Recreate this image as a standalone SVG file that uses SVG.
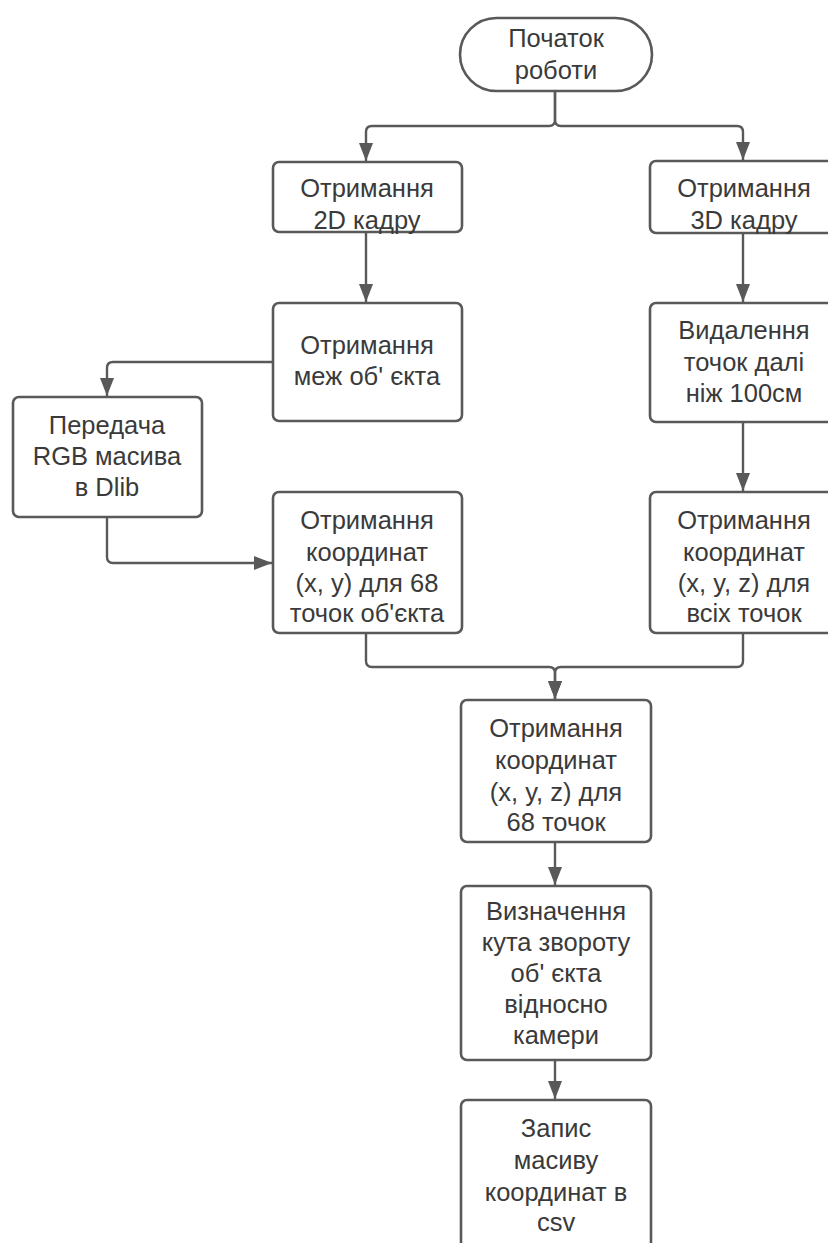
<svg xmlns="http://www.w3.org/2000/svg" width="828" height="1243" viewBox="0 0 828 1243">
<style>
.n{fill:#fff;stroke:#595959;stroke-width:2.6}
.c{fill:none;stroke:#595959;stroke-width:2.4}
text{font-family:"Liberation Sans",Arial,sans-serif;font-size:25.5px;fill:#3a3a3a;text-anchor:middle}
</style>
<defs>
<marker id="ah" markerUnits="userSpaceOnUse" markerWidth="18" markerHeight="16" viewBox="0 0 18 16" refX="18" refY="7" orient="auto">
<path d="M0,0 L18,7 L0,14 Z" fill="#595959"/>
</marker>
</defs>
<rect width="828" height="1243" fill="#fff"/>
<g id="connectors">
<path class="c" d="M555,91 V120 Q555,126 549,126 H372 Q366,126 366,132 V161" marker-end="url(#ah)"/>
<path class="c" d="M555,91 V120 Q555,126 561,126 H737 Q743,126 743,132 V160" marker-end="url(#ah)"/>
<path class="c" d="M366,232 V302" marker-end="url(#ah)"/>
<path class="c" d="M273,362 H113 Q107,362 107,368 V396" marker-end="url(#ah)"/>
<path class="c" d="M107,517 V557 Q107,563 113,563 H272" marker-end="url(#ah)"/>
<path class="c" d="M743,233 V302" marker-end="url(#ah)"/>
<path class="c" d="M743,422 V491" marker-end="url(#ah)"/>
<path class="c" d="M366,633 V661 Q366,667 372,667 H549 Q555,667 555,673 V699" marker-end="url(#ah)"/>
<path class="c" d="M743,633 V661 Q743,667 737,667 H561 Q555,667 555,673 V699" marker-end="url(#ah)"/>
<path class="c" d="M555,842 V885" marker-end="url(#ah)"/>
<path class="c" d="M555,1060 V1099" marker-end="url(#ah)"/>
</g>
<g id="start">
<rect class="n" x="460" y="18" width="192" height="73" rx="36.5"/>
<text x="556" y="47">Початок</text>
<text x="556" y="79">роботи</text>
</g>
<g id="frame2d">
<rect class="n" x="273" y="162" width="189" height="70" rx="6"/>
<text x="367" y="197">Отримання</text>
<text x="367" y="229">2D кадру</text>
</g>
<g id="frame3d">
<rect class="n" x="650" y="161" width="188" height="72" rx="6"/>
<text x="744" y="197">Отримання</text>
<text x="744" y="229">3D кадру</text>
</g>
<g id="bounds">
<rect class="n" x="273" y="303" width="189" height="118" rx="6"/>
<text x="367" y="354">Отримання</text>
<text x="367" y="385">меж об' єкта</text>
</g>
<g id="dlib">
<rect class="n" x="13" y="397" width="189" height="120" rx="6"/>
<text x="107" y="434">Передача</text>
<text x="107" y="465">RGB масива</text>
<text x="107" y="496">в Dlib</text>
</g>
<g id="coords2d">
<rect class="n" x="273" y="492" width="189" height="141" rx="6"/>
<text x="367" y="529">Отримання</text>
<text x="367" y="561">координат</text>
<text x="367" y="592">(x, y) для 68</text>
<text x="367" y="622">точок об'єкта</text>
</g>
<g id="filter">
<rect class="n" x="650" y="303" width="188" height="119" rx="6"/>
<text x="744" y="339">Видалення</text>
<text x="744" y="371">точок далі</text>
<text x="744" y="402">ніж 100см</text>
</g>
<g id="coords3d">
<rect class="n" x="650" y="492" width="188" height="141" rx="6"/>
<text x="744" y="529">Отримання</text>
<text x="744" y="561">координат</text>
<text x="744" y="592">(x, y, z) для</text>
<text x="744" y="622">всіх точок</text>
</g>
<g id="coords68">
<rect class="n" x="461" y="700" width="190" height="142" rx="6"/>
<text x="556" y="737">Отримання</text>
<text x="556" y="769">координат</text>
<text x="556" y="801">(x, y, z) для</text>
<text x="556" y="831">68 точок</text>
</g>
<g id="angle">
<rect class="n" x="461" y="886" width="190" height="174" rx="6"/>
<text x="556" y="920">Визначення</text>
<text x="556" y="951">кута звороту</text>
<text x="556" y="982">об' єкта</text>
<text x="556" y="1013">відносно</text>
<text x="556" y="1044">камери</text>
</g>
<g id="save">
<rect class="n" x="461" y="1100" width="190" height="170" rx="6"/>
<text x="556" y="1137">Запис</text>
<text x="556" y="1169">масиву</text>
<text x="556" y="1201">координат в</text>
<text x="556" y="1231">csv</text>
</g>
</svg>
